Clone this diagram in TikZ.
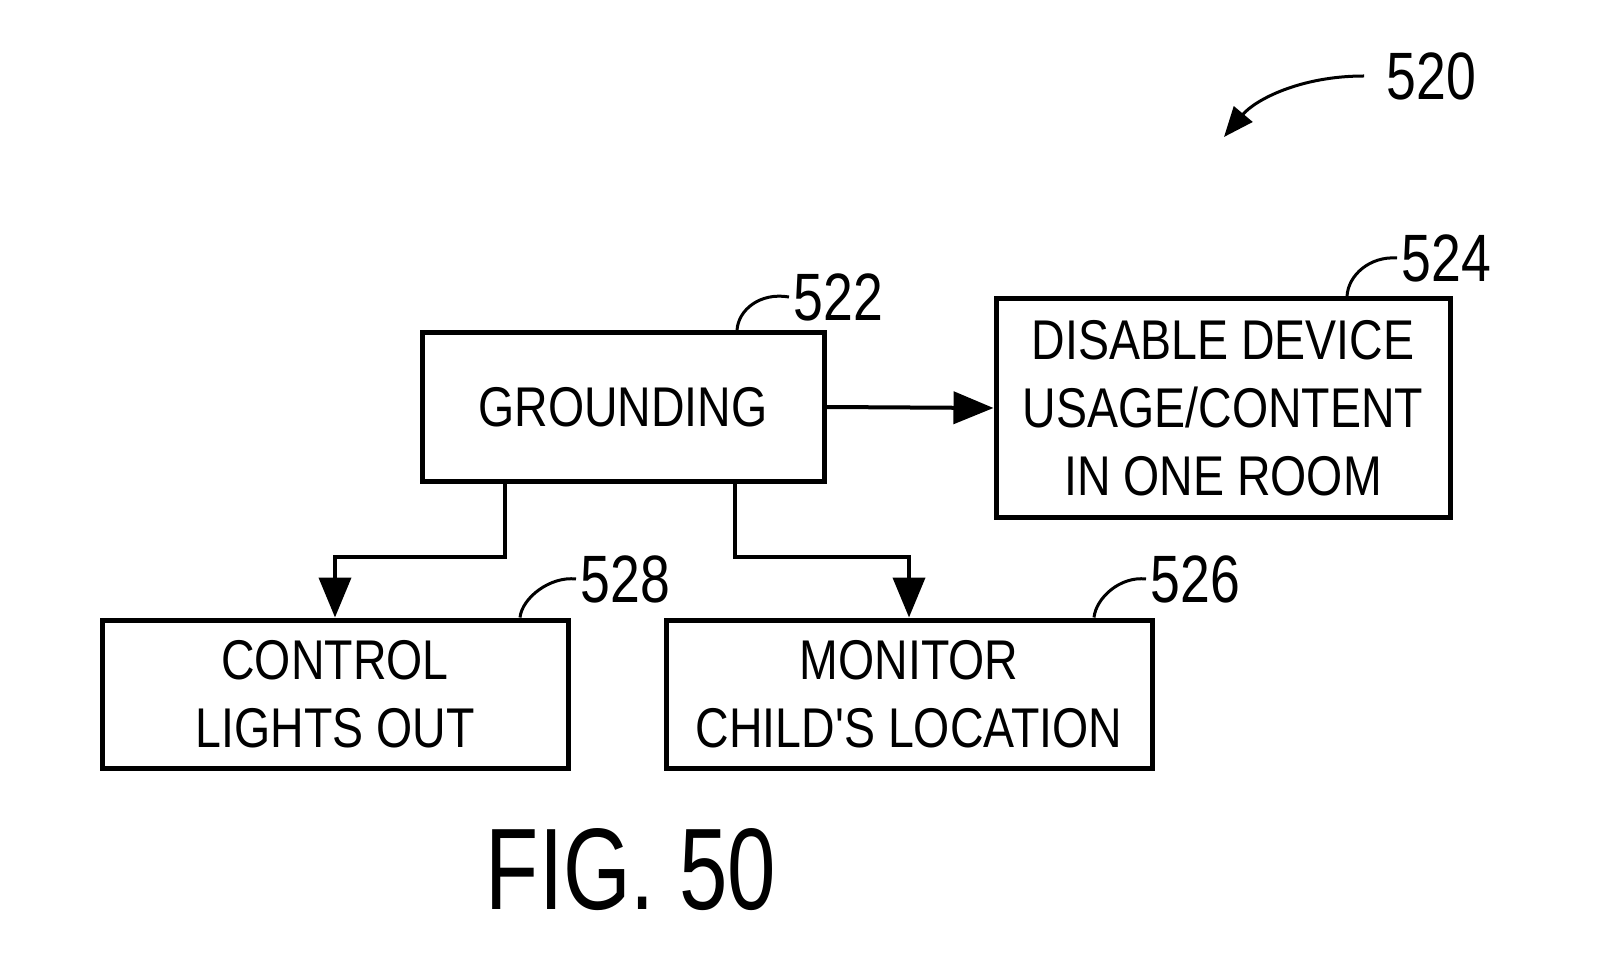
\documentclass[tikz,border=0pt]{standalone}
\usepackage{fontspec}
\setmainfont{Liberation Sans}
\newfontfamily\boxfont[FakeStretch=0.83]{Liberation Sans}
\newfontfamily\numfont[FakeStretch=0.8]{Liberation Sans}
\newfontfamily\figfont[FakeStretch=0.75]{Liberation Sans}
\usetikzlibrary{arrows.meta}
\begin{document}
\begin{tikzpicture}[x=0.5pt, y=-0.5pt,
  box/.style={draw, line width=2.5pt, inner sep=0pt, align=center, font=\boxfont\fontsize{28}{34}\selectfont},
  lbl/.style={inner sep=0pt, anchor=west, font=\numfont\fontsize{33.5}{40}\selectfont},
  flow/.style={line width=2pt, -{Triangle[length=20pt,width=16pt]}},
  leader/.style={line width=1.5pt}]
  \useasboundingbox (0,0) rectangle (1606,978);
  % boxes
  \node[box, minimum width=201pt, minimum height=74pt] (grounding) at (623,407) {GROUNDING};
  \node[box, minimum width=227pt, minimum height=109pt] (disable) at (1223,408) {DISABLE DEVICE\\USAGE/CONTENT\\IN ONE ROOM};
  \node[box, minimum width=233pt, minimum height=74pt] (control) at (335,694) {CONTROL\\LIGHTS OUT};
  \node[box, minimum width=243pt, minimum height=74pt] (monitor) at (909,694) {MONITOR\\CHILD'S LOCATION};
  % flow
  \draw[flow] (grounding.east) -- (disable.west);
  \draw[flow] ([xshift=-59pt]grounding.south) -- ++(0,73) -| (control.north);
  \draw[flow] ([xshift=56pt]grounding.south) -- ++(0,73) -| (monitor.north);
  % reference numerals
  \node[lbl] (n520) at (1386,76) {520};
  \node[lbl] (n522) at (793,297) {522};
  \node[lbl] (n524) at (1401,258) {524};
  \node[lbl] (n528) at (580,579) {528};
  \node[lbl] (n526) at (1150,579) {526};
  \coordinate (tip520) at (1224,137);
  \draw[leader, -{Triangle[length=15pt,width=12pt]}] ([xshift=-11pt]n520.west) .. controls (1300,76) and (1255,100) .. (tip520);
  \draw[leader] ([xshift=-2pt]n522.west) .. controls (760,292) and (738,310) .. ([xshift=57pt]grounding.north);
  \draw[leader] ([xshift=-2pt]n524.west) .. controls (1370,256) and (1348,275) .. ([xshift=62pt]disable.north);
  \draw[leader] ([xshift=-2pt]n528.west) .. controls (550,576) and (522,598) .. ([xshift=92.5pt]control.north);
  \draw[leader] ([xshift=-2pt]n526.west) .. controls (1120,576) and (1096,598) .. ([xshift=92.5pt]monitor.north);
  % caption
  \node[inner sep=0pt, font=\figfont\fontsize{58}{60}\selectfont] (fig) at (631,870) {FIG. 50};
\end{tikzpicture}
\end{document}
